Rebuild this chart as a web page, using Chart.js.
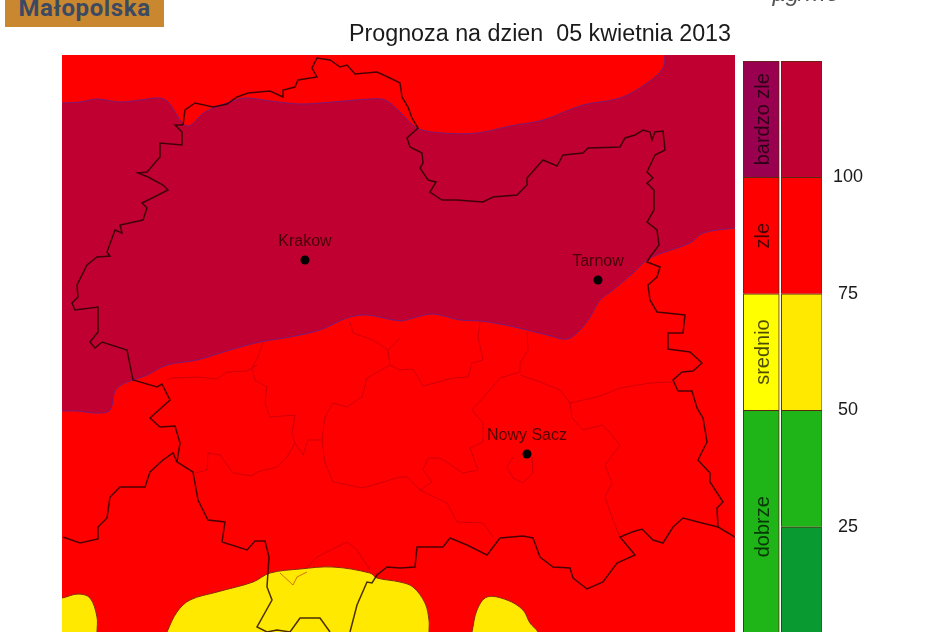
<!DOCTYPE html>
<html>
<head>
<meta charset="utf-8">
<title>Prognoza</title>
<script src="https://cdn.jsdelivr.net/npm/chart.js@4/dist/chart.umd.min.js"></script>
<style>
  html, body { margin: 0; padding: 0; background: #fff; overflow: hidden; }
  #page { position: relative; width: 950px; height: 632px; overflow: hidden; font-family: "Liberation Sans", sans-serif; }
  canvas { position: absolute; left: 0; top: 0; filter: blur(0.5px); }
  #logo { position: absolute; left: 5px; top: -6px; width: 159px; height: 33px; background: #c9872f; color: #3b4a62; font: bold 24px/28px Roboto, sans-serif; letter-spacing: 0.6px; text-align: center; }
  #title { position: absolute; left: 300px; width: 480px; top: 21px; text-align: center; color: #1a1a1a; font-size: 23.3px; line-height: 24px; white-space: pre; }
  #unit { position: absolute; left: 772px; top: -21px; color: #555; font-style: italic; font-size: 24px; line-height: 28px; }
</style>
</head>
<body>
<div id="page">
  <canvas id="mapChart" width="950" height="632"></canvas>
  <canvas id="scaleChart" width="950" height="646"></canvas>
  <div id="logo">Małopolska</div>
  <div id="title">Prognoza na dzien  05 kwietnia 2013</div>
  <div id="unit">µg/m3</div>
</div>
<script>
// map shapes in map grid units
const darkArea = [[50,103],[62,103],[80,102],[97,99],[120,102],[140,100],[160,98],[168,102],[187,126],[205,112],[230,102],[245,98],[270,101],[300,104],[320,103],[345,101],[370,99],[385,100],[400,112],[417,128],[443,133],[477,133],[510,126],[543,120],[583,105],[620,98],[647,83],[663,68],[665,55],[666,40],[750,40],[750,226],[735,228],[703,233],[690,243],[650,258],[633,273],[613,290],[600,300],[590,317],[580,330],[567,339],[547,335],[527,330],[500,324],[480,321],[460,320],[433,314],[413,318],[400,321],[367,315],[347,318],[320,330],[290,337],[260,342],[230,350],[197,360],[167,365],[147,375],[117,388],[110,410],[97,413],[77,411],[62,411],[50,411]];
const yellowLeft = [[50,599],[62,598],[78,594],[90,598],[97,617],[97,632],[97,650],[50,650]];
const yellowMiddle = [[160,650],[167,632],[177,612],[190,600],[217,592],[253,582],[270,573],[300,569],[333,567],[370,573],[377,578],[400,582],[413,587],[425,603],[429,620],[429,632],[429,650]];
const yellowRight = [[468,650],[472,632],[477,610],[487,597],[507,600],[523,610],[530,623],[538,632],[545,650]];

const regionBorder = [[183,125],[185,110],[195,103],[213,107],[227,104],[237,97],[248,93],[270,91],[283,97],[283,90],[295,87],[298,80],[317,77],[312,68],[317,58],[330,60],[340,67],[347,65],[355,74],[377,72],[390,78],[400,83],[402,97],[408,107],[412,118],[418,128],[407,138],[410,147],[422,153],[423,163],[420,168],[428,180],[436,182],[430,192],[442,200],[457,200],[483,202],[493,197],[517,195],[527,185],[527,178],[543,160],[557,166],[563,155],[583,153],[588,148],[620,147],[625,138],[635,135],[643,130],[650,132],[652,140],[655,132],[663,131],[665,150],[655,155],[647,172],[653,178],[647,183],[654,190],[654,210],[647,222],[657,230],[659,245],[650,257],[647,262],[660,267],[657,277],[648,285],[650,300],[657,312],[685,315],[683,333],[668,333],[668,349],[690,352],[702,363],[693,371],[682,372],[673,380],[678,391],[692,391],[697,408],[703,418],[707,442],[698,460],[710,473],[710,482],[723,502],[717,508],[718,527],[702,523],[683,518],[673,527],[663,543],[653,540],[642,529],[632,532],[620,537],[635,555],[617,563],[603,582],[587,589],[573,578],[570,568],[553,567],[540,557],[533,538],[523,536],[500,538],[487,555],[467,545],[450,538],[443,547],[417,547],[415,567],[400,568],[387,567],[377,575],[372,583],[367,582],[357,605],[350,632]];
const regionBorderWest = [[290,632],[277,630],[267,632],[257,627],[272,600],[267,587],[269,557],[265,541],[255,541],[247,550],[222,542],[225,522],[208,520],[198,500],[193,472],[177,462],[180,443],[175,426],[160,427],[150,418],[170,400],[162,384],[157,387],[133,380],[127,350],[102,342],[95,348],[90,342],[98,332],[98,307],[75,310],[72,303],[78,297],[77,285],[87,265],[97,257],[110,256],[107,252],[115,230],[122,233],[120,225],[143,220],[147,208],[142,203],[168,190],[163,185],[148,177],[138,173],[147,172],[160,157],[160,143],[182,145],[182,132],[175,125],[183,125]];
const neighbourBorder = [[63,537],[80,543],[98,539],[98,527],[107,518],[110,497],[120,487],[145,487],[150,472],[163,460],[173,453],[177,462]];
const southBorder = [[290,632],[300,618],[320,618],[330,632]];
const eastStub = [[718,527],[735,537]];

const districtLines = [
  [[167,380],[172,378],[197,377],[217,379],[227,372],[247,371],[257,365]],
  [[263,342],[258,357],[252,368],[255,380],[267,387],[265,403],[270,417],[295,415],[292,433],[295,443],[287,457],[277,467],[257,472],[252,476],[233,473],[220,455],[208,453],[207,470],[195,473]],
  [[295,443],[303,455],[308,440],[322,440],[325,417],[333,403],[347,407],[362,397],[367,378],[390,365],[400,370],[413,369],[423,386],[453,378],[468,377],[472,363],[483,360],[478,337],[480,322]],
  [[322,440],[325,463],[333,482],[363,488],[400,477],[407,477],[420,490],[432,482],[423,470],[428,458],[440,458],[463,473],[478,470],[470,448],[483,442],[483,423],[472,410],[488,392],[500,378],[520,372],[520,363],[528,350],[527,332]],
  [[350,322],[353,333],[373,340],[388,350],[390,365]],
  [[400,338],[388,350]],
  [[520,375],[540,382],[560,390],[570,403],[572,418],[583,430],[603,425],[620,445],[605,465],[612,483],[605,497],[613,520],[620,537]],
  [[570,403],[597,397],[620,388],[650,383],[673,382]],
  [[420,490],[447,503],[457,522],[483,523],[493,537]],
  [[513,457],[507,467],[513,478],[523,483],[533,473],[532,457]],
  [[307,567],[317,557],[347,542],[357,550],[370,570]],
  [[280,573],[293,585],[297,577],[307,572]]
];

const cityNames = ["Krakow", "Tarnow", "Nowy Sacz"];
const cityPoints = [[305,260],[598,280],[527,454]];

// colour scale
const scaleTicks = [25, 50, 75, 100];
const scaleColumns = ["opis", "skala"];
const labelBands = [[0,50],[50,75],[75,100],[100,125]];
const labelNames = ["dobrze", "srednio", "zle", "bardzo zle"];
const labelMids = [25, 62.5, 87.5, 112.5];
const labelColours = ["#1fb417", "#ffff00", "#ff0000", "#99004f"];
const valueBands = [[0,25],[25,50],[50,75],[75,100],[100,125]];
const valueColours = ["#0a9a32", "#1fb417", "#ffe900", "#ff0000", "#c00030"];

function shape(data, colour, edge, order) {
  return { data, showLine: true, fill: "shape", backgroundColor: colour, borderColor: edge, borderWidth: 1, pointRadius: 0, tension: 0.35, order };
}

function line(data, colour, width, order) {
  return { data, showLine: true, fill: false, borderColor: colour, borderWidth: width, pointRadius: 0, tension: 0, order };
}

const redFill = {
  id: "redFill",
  beforeDraw(chart) {
    const a = chart.chartArea;
    chart.ctx.fillStyle = "#ff0000";
    chart.ctx.fillRect(a.left, a.top, a.width, a.height);
  },
};

const cityLabels = {
  id: "cityLabels",
  afterDatasetsDraw(chart) {
    const { ctx, scales } = chart;
    ctx.save();
    ctx.font = '16px "Liberation Sans"';
    ctx.fillStyle = "rgba(40,0,0,0.8)";
    ctx.textAlign = "center";
    ctx.textBaseline = "middle";
    cityNames.forEach((name, i) => {
      ctx.fillText(name, scales.x.getPixelForValue(cityPoints[i][0]), scales.y.getPixelForValue(cityPoints[i][1] - 18));
    });
    ctx.restore();
  },
};

function createMap() {
  const blackLine = "rgba(30,0,0,0.8)";
  const thinLine = "rgba(160,0,20,0.5)";
  const datasets = [
    shape(darkArea, "#c00030", "#7a1a78", 9),
    shape(yellowLeft, "#ffe900", "#8a2a10", 8),
    shape(yellowMiddle, "#ffe900", "#8a2a10", 8),
    shape(yellowRight, "#ffe900", "#8a2a10", 8),
  ];
  districtLines.forEach((d) => datasets.push(line(d, thinLine, 1, 5)));
  [regionBorder, regionBorderWest, neighbourBorder, southBorder, eastStub].forEach((d) => {
    datasets.push(line(d, blackLine, 1.5, 3));
  });
  datasets.push({ data: cityPoints, showLine: false, pointRadius: 4.5, pointBackgroundColor: "#000", pointBorderWidth: 0, order: 1 });

  new Chart(document.getElementById("mapChart"), {
    type: "scatter",
    data: { datasets },
    options: {
      responsive: false,
      animation: false,
      layout: { autoPadding: false, padding: { left: 62, right: 215, top: 55, bottom: 0 } },
      plugins: { legend: { display: false }, tooltip: { enabled: false } },
      scales: {
        x: { display: false, min: 62, max: 735 },
        y: { display: false, min: 55, max: 632, reverse: true },
      },
    },
    plugins: [redFill, cityLabels],
  });
}

const scaleLabels = {
  id: "scaleLabels",
  afterDatasetsDraw(chart) {
    const { ctx, scales } = chart;
    ctx.save();
    ctx.font = '20px "Liberation Sans"';
    ctx.fillStyle = "rgba(0,0,0,0.7)";
    ctx.textAlign = "center";
    ctx.textBaseline = "middle";
    labelNames.forEach((name, i) => {
      const x = scales.x.getPixelForValue(0);
      const y = scales.y.getPixelForValue(labelMids[i]);
      ctx.save();
      ctx.translate(x, y);
      ctx.rotate(-Math.PI / 2);
      ctx.fillText(name, 0, 2);
      ctx.restore();
    });
    ctx.restore();
  },
};

function createScale() {
  const edge = "#5a2a10";
  const datasets = [];
  labelBands.forEach((band, i) => {
    datasets.push({ data: [band, null], backgroundColor: labelColours[i], borderColor: edge, borderWidth: 1, barThickness: 36 });
  });
  valueBands.forEach((band, i) => {
    datasets.push({ data: [null, band], backgroundColor: valueColours[i], borderColor: edge, borderWidth: 1, barThickness: 41 });
  });

  new Chart(document.getElementById("scaleChart"), {
    type: "bar",
    data: { labels: scaleColumns, datasets },
    options: {
      responsive: false,
      animation: false,
      grouped: false,
      layout: { autoPadding: false, padding: { left: 741, right: 58, top: 61, bottom: 0 } },
      plugins: { legend: { display: false }, tooltip: { enabled: false } },
      scales: {
        x: { display: false },
        y: {
          position: "right",
          min: 2.35,
          max: 125,
          grid: { display: false },
          border: { display: false },
          afterBuildTicks(axis) { axis.ticks = scaleTicks.map((value) => ({ value })); },
          afterFit(axis) { axis.width = 70; },
          ticks: { color: "#1a1a1a", font: { family: "Liberation Sans", size: 18 }, crossAlign: "center", padding: 3 },
        },
      },
    },
    plugins: [scaleLabels],
  });
}

createMap();
createScale();
</script>
</body>
</html>
